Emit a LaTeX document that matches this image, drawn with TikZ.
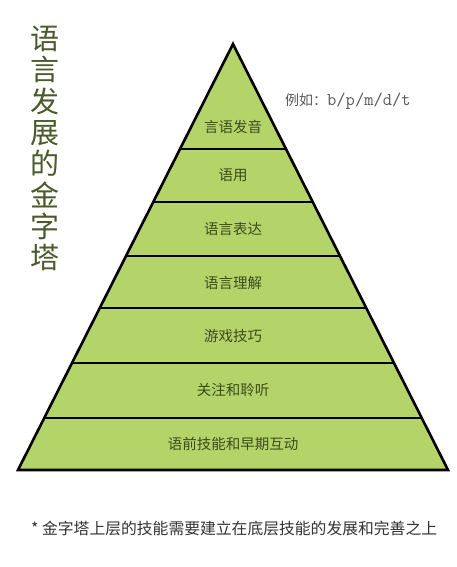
\documentclass[tikz,border=0pt]{standalone}
\usepackage{fontspec}
\newfontfamily\cjk{Noto Sans CJK SC}
\definecolor{layergreen}{HTML}{B4D46A}
\definecolor{labelgreen}{HTML}{3C4B1D}
\definecolor{titlegreen}{HTML}{4B5A2A}
\begin{document}
\begin{tikzpicture}[x=1pt, y=-1pt, lbl/.style={font=\cjk\fontsize{14.5}{16}\selectfont, text=labelgreen, inner sep=0pt}]
\useasboundingbox[fill=white] (0,0) rectangle (457,567);
\fill[layergreen] (233,44) -- (448,470) -- (18,470) -- cycle;
\foreach \y in {149,202,256,308,363,418} {
  \pgfmathsetmacro\hw{(\y-44)/426*215}
  \draw[line width=2.4pt] (233-\hw,\y) -- (233+\hw,\y);
}
\draw[line width=2.6pt, line join=miter] (233,44) -- (448,470) -- (18,470) -- cycle;
\node[lbl] (l1) at (233,127) {言语发音};
\node[lbl] (l2) at (233,175) {语用};
\node[lbl] (l3) at (233,229) {语言表达};
\node[lbl] (l4) at (233,283) {语言理解};
\node[lbl] (l5) at (233,336) {游戏技巧};
\node[lbl] (l6) at (233,390) {关注和聆听};
\node[lbl] (l7) at (233,444) {语前技能和早期互动};
\node[font=\cjk\fontsize{29}{31.3}\selectfont, text=titlegreen, align=center, inner sep=0pt] (title) at (45,148.5) {语\\言\\发\\展\\的\\金\\字\\塔};
\node[anchor=west, text=black!65, inner sep=0pt] (example) at (285,101) {\cjk\fontsize{14}{16}\selectfont 例如：\ttfamily\fontsize{18}{19}\selectfont b/p/m/d/t};
\node[anchor=west, text=black!80, inner sep=0pt, font=\cjk\fontsize{15.8}{17}\selectfont] (note) at (31,528) {* 金字塔上层的技能需要建立在底层技能的发展和完善之上};
\end{tikzpicture}
\end{document}
